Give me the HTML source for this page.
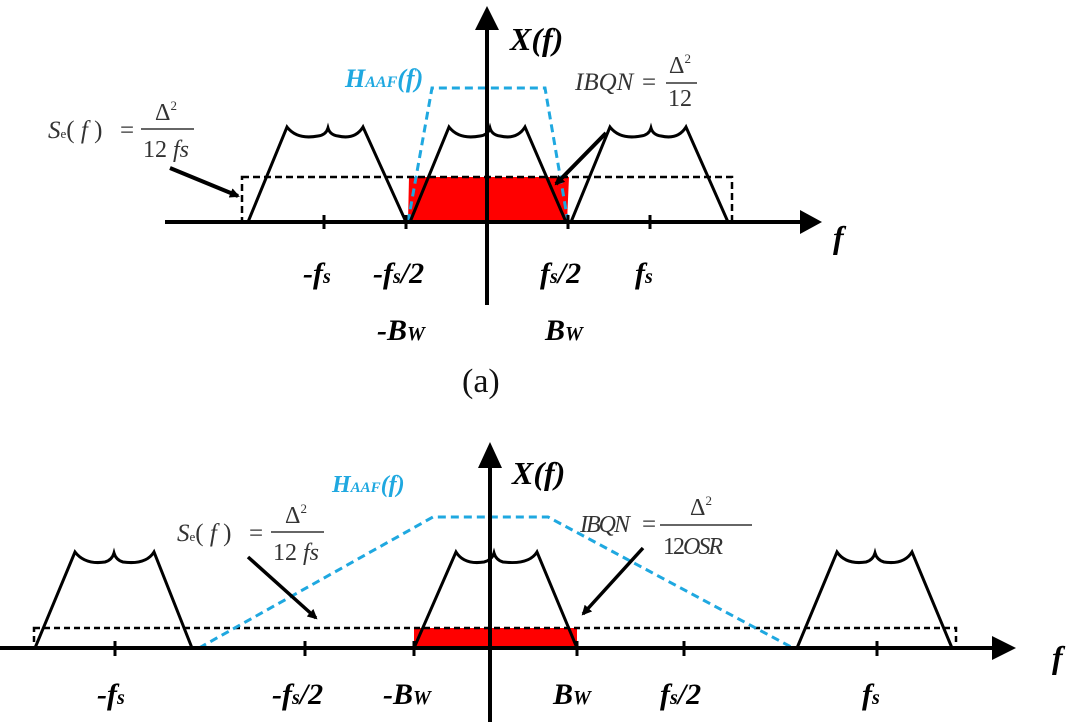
<!DOCTYPE html>
<html><head><meta charset="utf-8"><style>
html,body{margin:0;padding:0;background:#fff;}
svg{display:block;}
.b{font-family:"Liberation Serif",serif;font-weight:bold;font-style:italic;fill:#000;}
.n{font-family:"Liberation Serif",serif;fill:#333;}
.i{font-style:italic;}
.bl{font-family:"Liberation Serif",serif;font-weight:bold;font-style:italic;fill:#1fa8e0;}
</style></head><body>
<svg width="1080" height="726" viewBox="0 0 1080 726" xmlns="http://www.w3.org/2000/svg">
<defs>
<marker id="ah" markerWidth="10" markerHeight="10" refX="8" refY="5" orient="auto" markerUnits="userSpaceOnUse">
<path d="M0,0 L10,5 L0,10 z" fill="#000"/></marker>
</defs>

<!-- ===== TOP (a) ===== -->
<polygon points="408,222 409,177 569,177 567,222" fill="#f00"/>
<rect x="242" y="177" width="490" height="45" fill="none" stroke="#000" stroke-width="2.5" stroke-dasharray="7,4"/>
<polyline points="408,222 432,88 545,88 568,222" fill="none" stroke="#1fa8e0" stroke-width="3" stroke-dasharray="8,5"/>
<!-- spectra -->
<g fill="none" stroke="#000" stroke-width="3">
<path d="M248,222 L287,127 Q297,140 318,136 Q326,135 328,128 Q330,135 338,136 Q355,140 363,127 L406,222"/>
<path d="M410,222 L449,127 Q459,140 480,136 Q488,135 490,128 Q492,135 500,136 Q517,140 525,127 L566,222"/>
<path d="M571,222 L610,127 Q620,140 641,136 Q649,135 651,128 Q653,135 661,136 Q678,140 686,127 L728,222"/>
</g>
<!-- axes -->
<line x1="165" y1="222" x2="808" y2="222" stroke="#000" stroke-width="4"/>
<path d="M800,210 L822,222 L800,234 z" fill="#000"/>
<line x1="487" y1="305" x2="487" y2="22" stroke="#000" stroke-width="4"/>
<path d="M475,30 L487,6 L499,30 z" fill="#000"/>
<g stroke="#000" stroke-width="3">
<line x1="324" y1="215" x2="324" y2="229"/><line x1="406" y1="215" x2="406" y2="229"/>
<line x1="568" y1="215" x2="568" y2="229"/><line x1="650" y1="215" x2="650" y2="229"/>
</g>
<!-- arrows -->
<line x1="170" y1="168" x2="238" y2="196" stroke="#000" stroke-width="4" marker-end="url(#ah)"/>
<line x1="606" y1="133" x2="556" y2="184" stroke="#000" stroke-width="4" marker-end="url(#ah)"/>
<!-- labels -->
<text x="510" y="50" class="b" font-size="32">X(f)</text>
<text x="345" y="87" class="bl" font-size="26">H<tspan font-size="16">AAF</tspan>(f)</text>
<text x="575" y="90" class="n i" font-size="25">IBQN</text>
<text x="642" y="90" class="n" font-size="25">=</text>
<line x1="666" y1="83" x2="697" y2="83" stroke="#333" stroke-width="1.5"/>
<text x="669" y="73" class="n" font-size="24">Δ<tspan font-size="13" dy="-10">2</tspan></text>
<text x="668" y="106" class="n" font-size="24">12</text>
<text x="48" y="138" class="n i" font-size="25">S<tspan font-size="13" font-style="normal">e</tspan><tspan font-style="normal">(</tspan> f <tspan font-style="normal">)</tspan></text>
<text x="120" y="138" class="n" font-size="25">=</text>
<line x1="141" y1="129" x2="194" y2="129" stroke="#333" stroke-width="1.5"/>
<text x="155" y="120" class="n" font-size="24">Δ<tspan font-size="13" dy="-10">2</tspan></text>
<text x="143" y="157" class="n" font-size="24">12 <tspan font-style="italic">fs</tspan></text>
<text x="833" y="248" class="b" font-size="32">f</text>
<g class="b" font-size="30">
<text x="303" y="283">-f<tspan font-size="20">s</tspan></text>
<text x="373" y="283">-f<tspan font-size="20">s</tspan>/2</text>
<text x="540" y="283">f<tspan font-size="20">s</tspan>/2</text>
<text x="635" y="283">f<tspan font-size="20">s</tspan></text>
<text x="377" y="340">-B<tspan font-size="20">W</tspan></text>
<text x="545" y="340">B<tspan font-size="20">W</tspan></text>
</g>
<text x="462" y="392" font-family="Liberation Serif,serif" font-size="34" fill="#111">(a)</text>

<!-- ===== BOTTOM ===== -->
<rect x="414" y="628" width="163" height="20" fill="#f00"/>
<rect x="34" y="628" width="922" height="20" fill="none" stroke="#000" stroke-width="2.5" stroke-dasharray="6,4"/>
<polyline points="199,648 433,517 548,517 793,648" fill="none" stroke="#1fa8e0" stroke-width="3" stroke-dasharray="8,5"/>
<g fill="none" stroke="#000" stroke-width="3">
<path d="M35,648 L75,552 Q85,565 105,562 Q112,560 114,553 Q116,560 123,562 Q146,565 154,552 L192,648"/>
<path d="M414,648 L456,552 Q464,565 484,562 Q492,560 494,553 Q496,560 503,562 Q529,565 537,552 L577,648"/>
<path d="M797,648 L837,552 Q846,565 866,562 Q873,560 875,553 Q877,560 884,562 Q904,565 912,552 L952,648"/>
</g>
<line x1="0" y1="648" x2="1000" y2="648" stroke="#000" stroke-width="4"/>
<path d="M992,636 L1016,648 L992,660 z" fill="#000"/>
<line x1="490" y1="722" x2="490" y2="460" stroke="#000" stroke-width="4"/>
<path d="M478,468 L490,442 L502,468 z" fill="#000"/>
<g stroke="#000" stroke-width="3">
<line x1="115" y1="641" x2="115" y2="656"/><line x1="305" y1="641" x2="305" y2="656"/>
<line x1="414" y1="641" x2="414" y2="656"/><line x1="577" y1="641" x2="577" y2="656"/>
<line x1="684" y1="641" x2="684" y2="656"/><line x1="877" y1="641" x2="877" y2="656"/>
</g>
<line x1="248" y1="557" x2="316" y2="618" stroke="#000" stroke-width="3.5" marker-end="url(#ah)"/>
<line x1="643" y1="548" x2="583" y2="614" stroke="#000" stroke-width="3.5" marker-end="url(#ah)"/>
<text x="512" y="484" class="b" font-size="32">X(f)</text>
<text x="332" y="492" class="bl" font-size="24">H<tspan font-size="15">AAF</tspan>(f)</text>
<text x="177" y="541" class="n i" font-size="25">S<tspan font-size="13" font-style="normal">e</tspan><tspan font-style="normal">(</tspan> f <tspan font-style="normal">)</tspan></text>
<text x="249" y="541" class="n" font-size="25">=</text>
<line x1="271" y1="532" x2="324" y2="532" stroke="#333" stroke-width="1.5"/>
<text x="285" y="523" class="n" font-size="24">Δ<tspan font-size="13" dy="-10">2</tspan></text>
<text x="273" y="560" class="n" font-size="24">12 <tspan font-style="italic">fs</tspan></text>
<text x="580" y="532" class="n i" font-size="24" letter-spacing="-2">IBQN</text>
<text x="642" y="532" class="n" font-size="25">=</text>
<line x1="660" y1="525" x2="752" y2="525" stroke="#333" stroke-width="1.5"/>
<text x="690" y="515" class="n" font-size="24">Δ<tspan font-size="13" dy="-10">2</tspan></text>
<text x="663" y="554" class="n" font-size="24" letter-spacing="-2">12<tspan font-style="italic">OSR</tspan></text>
<text x="1052" y="668" class="b" font-size="32">f</text>
<g class="b" font-size="30">
<text x="97" y="704">-f<tspan font-size="20">s</tspan></text>
<text x="272" y="704">-f<tspan font-size="20">s</tspan>/2</text>
<text x="383" y="704">-B<tspan font-size="20">W</tspan></text>
<text x="553" y="704">B<tspan font-size="20">W</tspan></text>
<text x="660" y="704">f<tspan font-size="20">s</tspan>/2</text>
<text x="862" y="704">f<tspan font-size="20">s</tspan></text>
</g>
</svg>
</body></html>
